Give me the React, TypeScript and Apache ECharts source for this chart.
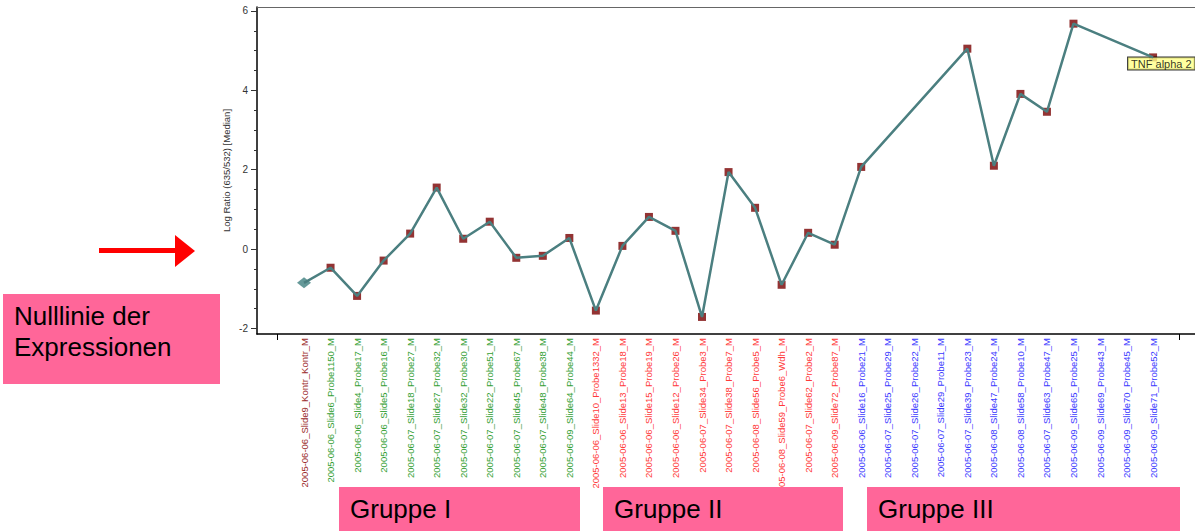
import React, { useEffect, useRef } from "react";
import * as echarts from "echarts";

const categories = [
  "2005-06-06_Slide9_Kontr_Kontr_M",
  "2005-06-06_Slide6_Probe1150_M",
  "2005-06-06_Slide4_Probe17_M",
  "2005-06-06_Slide5_Probe16_M",
  "2005-06-07_Slide18_Probe27_M",
  "2005-06-07_Slide27_Probe32_M",
  "2005-06-07_Slide32_Probe30_M",
  "2005-06-07_Slide22_Probe51_M",
  "2005-06-07_Slide45_Probe67_M",
  "2005-06-07_Slide48_Probe38_M",
  "2005-06-09_Slide64_Probe44_M",
  "2005-06-06_Slide10_Probe1332_M",
  "2005-06-06_Slide13_Probe18_M",
  "2005-06-06_Slide15_Probe19_M",
  "2005-06-06_Slide12_Probe26_M",
  "2005-06-07_Slide34_Probe3_M",
  "2005-06-07_Slide38_Probe7_M",
  "2005-06-08_Slide56_Probe5_M",
  "2005-06-08_Slide59_Probe6_Wdh_M",
  "2005-06-07_Slide62_Probe2_M",
  "2005-06-09_Slide72_Probe87_M",
  "2005-06-06_Slide16_Probe21_M",
  "2005-06-07_Slide25_Probe29_M",
  "2005-06-07_Slide26_Probe22_M",
  "2005-06-07_Slide29_Probe11_M",
  "2005-06-07_Slide39_Probe23_M",
  "2005-06-08_Slide47_Probe24_M",
  "2005-06-08_Slide58_Probe10_M",
  "2005-06-07_Slide63_Probe47_M",
  "2005-06-09_Slide65_Probe25_M",
  "2005-06-09_Slide69_Probe43_M",
  "2005-06-09_Slide70_Probe45_M",
  "2005-06-09_Slide71_Probe52_M",
];

const groups = [
  "K",
  "I", "I", "I", "I", "I", "I", "I", "I", "I", "I",
  "II", "II", "II", "II", "II", "II", "II", "II", "II", "II",
  "III", "III", "III", "III", "III", "III", "III", "III", "III", "III", "III", "III",
];

const values: (number | null)[] = [
  -0.85, -0.47, -1.18, -0.29, 0.39, 1.55, 0.26, 0.69, -0.22, -0.17, 0.28,
  -1.55, 0.08, 0.81, 0.46, -1.71, 1.94, 1.04, -0.9, 0.41, 0.11,
  2.07, null, null, null, 5.05, 2.1, 3.91, 3.46, 5.68, null, null, 4.83,
];

const yLabelTicks = [-2, 0, 2, 4, 6];
const yMinorTicks = [-2, -1.5, -1, -0.5, 0, 0.5, 1, 1.5, 2, 2.5, 3, 3.5, 4, 4.5, 5, 5.5, 6];
const yName = "Log Ratio (635/532) [Median]";
const pointNote = "TNF alpha 2";
const groupBoxes = ["Gruppe I", "Gruppe II", "Gruppe III"];
const noteBox = "Nulllinie der\nExpressionen";

const groupColor: Record<string, string> = {
  K: "#9a2a2a",
  I: "#33a033",
  II: "#ff3a3a",
  III: "#3a3aff",
};

const FONT = "Liberation Sans, Arial, sans-serif";
const PINK = "#ff6699";

export default function App() {
  const ref = useRef<HTMLDivElement>(null);
  useEffect(() => {
    if (!ref.current) return;
    const chart = echarts.init(ref.current, undefined, { renderer: "svg" });
    const pts = values
      .map((v, i) => (v === null ? null : [i, v]))
      .filter((p) => p !== null) as number[][];
    const lastIdx = values.length - 1;
    const scatterData = pts.map((p) => {
      if (p[0] === 0) {
        return {
          value: p,
          symbol: "diamond",
          symbolSize: [14, 11],
          itemStyle: { color: "#3f8080" },
        };
      }
      if (p[0] === lastIdx) {
        return {
          value: p,
          label: {
            show: true,
            formatter: pointNote,
            position: [-21, 4],
            align: "left",
            verticalAlign: "top",
            backgroundColor: "#ffff88",
            borderColor: "#000",
            borderWidth: 1,
            padding: [1, 3, 0, 3],
            color: "#000",
            fontSize: 11,
            fontFamily: FONT,
          },
        };
      }
      return { value: p };
    });
    const xMin = -1.772;
    const xMax = 33.58;
    const yMin = -2.14;
    const yMax = 6.1;
    const boxTop = 487;
    const boxDefs = [
      { x: 339, w: 241 },
      { x: 603, w: 240 },
      { x: 867, w: 313 },
    ];
    chart.setOption({
      animation: false,
      textStyle: { fontFamily: FONT },
      grid: { left: 257, right: 0, top: 7, bottom: 197, containLabel: false },
      xAxis: [
        {
          type: "value",
          min: xMin,
          max: xMax,
          axisLine: { show: true, onZero: false, lineStyle: { color: "#000", width: 1.5 } },
          axisTick: { show: true, customValues: [-1, 33], length: 6, lineStyle: { color: "#000" } },
          axisLabel: {
            show: true,
            customValues: categories.map((_, i) => i),
            formatter: (v: number) => categories[Math.round(v)] || "",
            rotate: 90,
            margin: 4,
            fontSize: 9.5,
            fontFamily: FONT,
            color: (v: number) => groupColor[groups[Math.round(v)]] || "#000",
          },
          splitLine: { show: false },
        },
        {
          type: "value",
          position: "top",
          min: xMin,
          max: xMax,
          axisLine: { show: true, onZero: false, lineStyle: { color: "#666", width: 1 } },
          axisTick: { show: false },
          axisLabel: { show: false },
          splitLine: { show: false },
        },
      ],
      yAxis: [
        {
          type: "value",
          min: yMin,
          max: yMax,
          position: "left",
          name: yName,
          nameLocation: "middle",
          nameGap: 26,
          nameTextStyle: { fontSize: 9.5, color: "#333", fontFamily: FONT },
          axisLine: { show: true, onZero: false, lineStyle: { color: "#000", width: 1.5 } },
          axisTick: { show: true, customValues: yMinorTicks, length: 3, lineStyle: { color: "#333" } },
          axisLabel: { show: false },
          splitLine: { show: false },
        },
        {
          type: "value",
          min: yMin,
          max: yMax,
          position: "left",
          axisLine: { show: false, onZero: false },
          axisTick: { show: true, customValues: yLabelTicks, length: 6, lineStyle: { color: "#333" } },
          axisLabel: {
            show: true,
            customValues: yLabelTicks,
            margin: 9,
            fontSize: 10,
            color: "#333",
            fontFamily: FONT,
          },
          splitLine: { show: false },
        },
      ],
      series: [
        {
          type: "scatter",
          xAxisIndex: 0,
          yAxisIndex: 0,
          data: scatterData,
          symbol: "rect",
          symbolSize: 8,
          itemStyle: { color: "#780000" },
          z: 2,
        },
        {
          type: "line",
          xAxisIndex: 0,
          yAxisIndex: 0,
          data: pts,
          symbol: "none",
          connectNulls: true,
          lineStyle: { color: "#4b7f80", width: 2.5 },
          z: 3,
        },
      ],
      graphic: [
        {
          type: "rect",
          shape: { x: 3, y: 294, width: 217, height: 90 },
          style: { fill: PINK },
          z: 10,
        },
        {
          type: "text",
          x: 14,
          y: 300,
          style: {
            text: noteBox,
            fill: "#000",
            fontSize: 26,
            fontFamily: FONT,
            lineHeight: 31,
            textVerticalAlign: "top",
          },
          z: 11,
        },
        {
          type: "rect",
          shape: { x: 99, y: 248, width: 77, height: 5 },
          style: { fill: "#ff0000" },
          z: 10,
        },
        {
          type: "polygon",
          shape: { points: [[175, 235], [195, 251], [175, 267]] },
          style: { fill: "#ff0000" },
          z: 10,
        },
        ...boxDefs.map((b, i) => ({
          type: "group",
          z: 10,
          children: [
            {
              type: "rect",
              shape: { x: b.x, y: boxTop, width: b.w, height: 50 },
              style: { fill: PINK },
              z: 10,
            },
            {
              type: "text",
              x: b.x + 11,
              y: 509,
              style: {
                text: groupBoxes[i],
                fill: "#000",
                fontSize: 26,
                fontFamily: FONT,
                textVerticalAlign: "middle",
              },
              z: 11,
            },
          ],
        })),
      ],
    });
    return () => chart.dispose();
  }, []);
  return (
    <div
      ref={ref}
      style={{ position: "fixed", left: 0, top: 0, width: 1195, height: 531, background: "#fff" }}
    />
  );
}
